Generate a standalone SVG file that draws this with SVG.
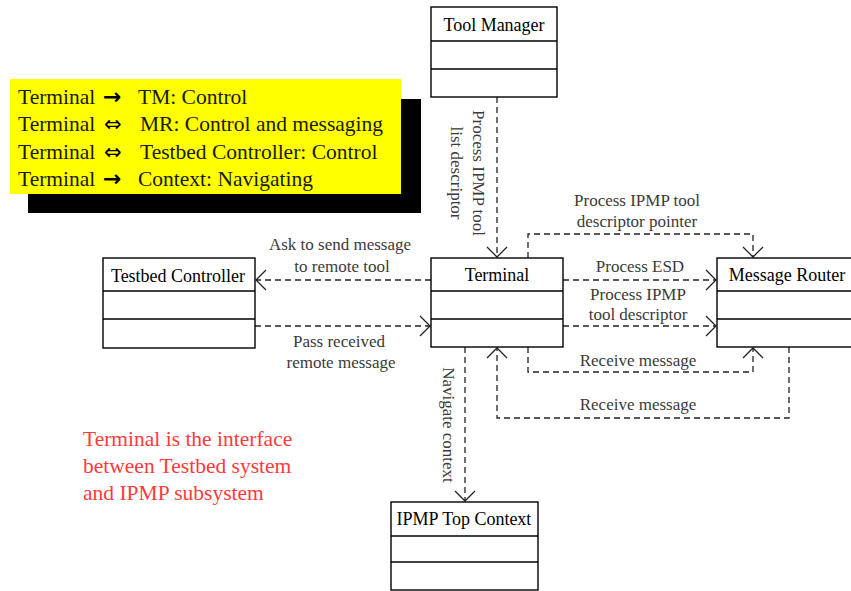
<svg xmlns="http://www.w3.org/2000/svg" width="851" height="591" viewBox="0 0 851 591">
  <style>
    .box { fill: #fff; stroke: #000; stroke-width: 1.4; }
    .div { stroke: #000; stroke-width: 1.4; }
    .name { font-family: "Liberation Serif", "Times New Roman", serif; font-size: 18px; fill: #000; text-anchor: middle; }
    .lbl { font-family: "Liberation Serif", "Times New Roman", serif; font-size: 17px; fill: #3a3a3a; text-anchor: middle; }
    .conn { fill: none; stroke: #222; stroke-width: 1.3; stroke-dasharray: 6 4; }
    .legend { font-family: "Liberation Serif", "Times New Roman", serif; font-size: 21.5px; fill: #1a1a00; }
    .sym { font-family: "DejaVu Sans", sans-serif; font-size: 22px; font-weight: bold; fill: #000; }
    .sym2 { font-family: "DejaVu Sans", sans-serif; font-size: 21px; fill: #000; }
    .note { font-family: "Liberation Serif", "Times New Roman", serif; font-size: 21.5px; fill: #ff3a3a; }
  </style>
  <defs>
    <marker id="open" viewBox="-12 -12 14 24" markerWidth="14" markerHeight="24" refX="0" refY="0" orient="auto" markerUnits="userSpaceOnUse">
      <path d="M -10 -10 L 0 0 L -10 10" fill="none" stroke="#222" stroke-width="1.3"/>
    </marker>
  </defs>

  <rect width="851" height="591" fill="#fff"/>

  <!-- legend panel with drop shadow -->
  <g id="legend">
    <rect x="28" y="99" width="393" height="114" fill="#000"/>
    <rect x="10" y="79" width="391" height="115" fill="#ffff00"/>
    <text class="legend" x="18" y="104">Terminal</text>
    <text class="sym" x="103" y="104">→</text>
    <text class="legend" x="138" y="104">TM: Control</text>
    <text class="legend" x="18" y="131">Terminal</text>
    <text class="sym2" x="104" y="131">⇔</text>
    <text class="legend" x="140" y="131">MR: Control and messaging</text>
    <text class="legend" x="18" y="159">Terminal</text>
    <text class="sym2" x="104" y="159">⇔</text>
    <text class="legend" x="140" y="159">Testbed Controller: Control</text>
    <text class="legend" x="18" y="186">Terminal</text>
    <text class="sym" x="103" y="186">→</text>
    <text class="legend" x="138" y="186">Context: Navigating</text>
  </g>

  <!-- connectors -->
  <g id="connectors">
    <path class="conn" d="M 497 97 L 497 257" marker-end="url(#open)"/>
    <path class="conn" d="M 528 258 L 528 234 L 753 234 L 753 257" marker-end="url(#open)"/>
    <path class="conn" d="M 563 280 L 716 280" marker-end="url(#open)"/>
    <path class="conn" d="M 563 326 L 716 326" marker-end="url(#open)"/>
    <path class="conn" d="M 528 347 L 528 372 L 753 372 L 753 348" marker-end="url(#open)"/>
    <path class="conn" d="M 789 347 L 789 418 L 497 418 L 497 348" marker-end="url(#open)"/>
    <path class="conn" d="M 431 280 L 256 280" marker-end="url(#open)"/>
    <path class="conn" d="M 255 326 L 430 326" marker-end="url(#open)"/>
    <path class="conn" d="M 465 347 L 465 501" marker-end="url(#open)"/>

    <text class="lbl" transform="translate(473,173) rotate(90)">Process IPMP tool</text>
    <text class="lbl" transform="translate(451,173) rotate(90)">list descriptor</text>
    <text class="lbl" x="637" y="206">Process IPMP tool</text>
    <text class="lbl" x="637" y="227">descriptor pointer</text>
    <text class="lbl" x="640" y="272">Process ESD</text>
    <text class="lbl" x="638" y="300">Process IPMP</text>
    <text class="lbl" x="638" y="320">tool descriptor</text>
    <text class="lbl" x="638" y="366">Receive message</text>
    <text class="lbl" x="638" y="410">Receive message</text>
    <text class="lbl" x="340" y="250">Ask to send message</text>
    <text class="lbl" x="342" y="272">to remote tool</text>
    <text class="lbl" x="339" y="347">Pass received</text>
    <text class="lbl" x="341" y="368">remote message</text>
    <text class="lbl" transform="translate(443,425) rotate(90)">Navigate context</text>
  </g>

  <g id="tool-manager">
    <rect class="box" x="431" y="7" width="126" height="90"/>
    <line class="div" x1="431" y1="41" x2="557" y2="41"/>
    <line class="div" x1="431" y1="69" x2="557" y2="69"/>
    <text class="name" x="494" y="31">Tool Manager</text>
  </g>

  <g id="terminal">
    <rect class="box" x="431" y="258" width="132" height="89"/>
    <line class="div" x1="431" y1="291" x2="563" y2="291"/>
    <line class="div" x1="431" y1="319" x2="563" y2="319"/>
    <text class="name" x="497" y="281">Terminal</text>
  </g>

  <g id="message-router">
    <rect class="box" x="717" y="258" width="150" height="89"/>
    <line class="div" x1="717" y1="291" x2="867" y2="291"/>
    <line class="div" x1="717" y1="319" x2="867" y2="319"/>
    <text class="name" x="787" y="281">Message Router</text>
  </g>

  <g id="testbed-controller">
    <rect class="box" x="103" y="258" width="152" height="90"/>
    <line class="div" x1="103" y1="291" x2="255" y2="291"/>
    <line class="div" x1="103" y1="319" x2="255" y2="319"/>
    <text class="name" x="178" y="282">Testbed Controller</text>
  </g>

  <g id="ipmp-top-context">
    <rect class="box" x="391" y="502" width="147" height="88"/>
    <line class="div" x1="391" y1="536" x2="538" y2="536"/>
    <line class="div" x1="391" y1="562" x2="538" y2="562"/>
    <text class="name" x="464" y="525">IPMP Top Context</text>
  </g>

  <g id="note">
    <text class="note" x="83" y="446">Terminal is the interface</text>
    <text class="note" x="83" y="473">between Testbed system</text>
    <text class="note" x="83" y="500">and IPMP subsystem</text>
  </g>
</svg>
